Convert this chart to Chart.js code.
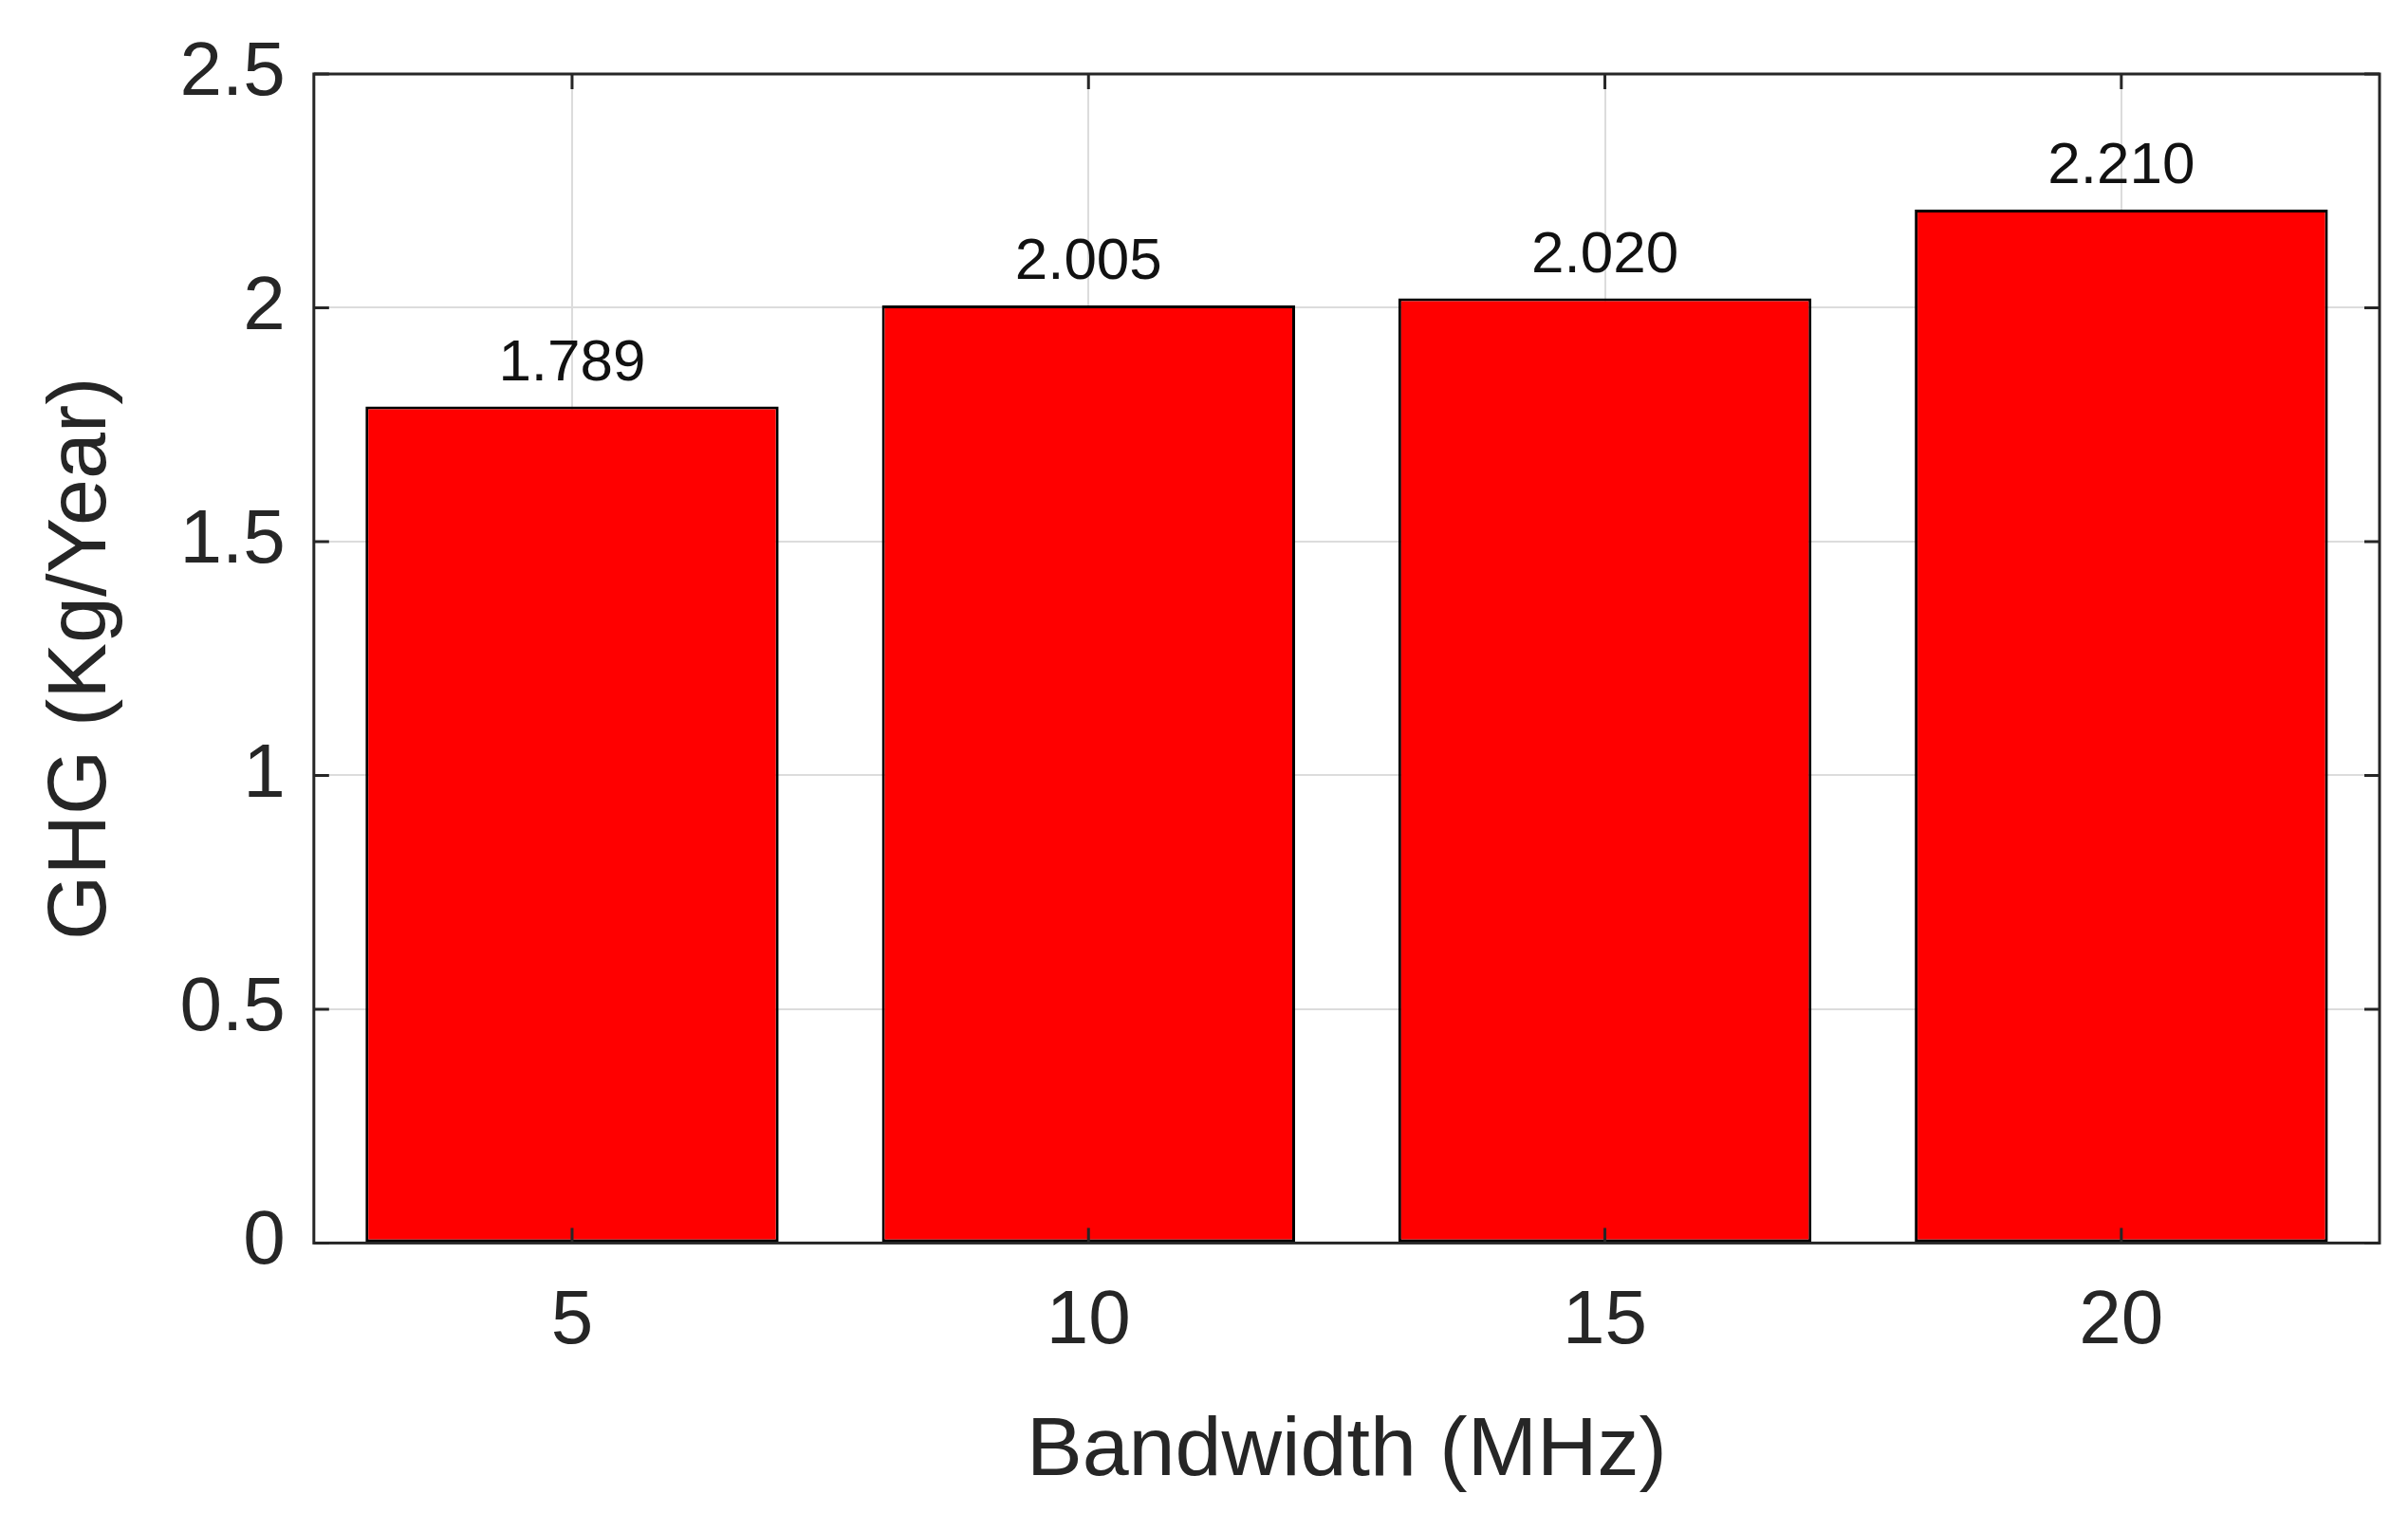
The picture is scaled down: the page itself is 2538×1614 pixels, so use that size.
<!DOCTYPE html>
<html><head><meta charset="utf-8">
<script src="https://cdn.jsdelivr.net/npm/chart.js@4"></script>
<style>html,body{margin:0;padding:0;background:#fff}#w{width:2538px;height:1614px}</style>
</head><body><div id="w"><canvas id="c"></canvas></div>
<script>
const categories = ["5","10","15","20"];
const ghgValues = [1.789, 2.005, 2.020, 2.210];
const valueLabels = ["1.789","2.005","2.020","2.210"];
const yTicks = [0,0.5,1,1.5,2,2.5];
const FONT = "Liberation Sans, Arial, sans-serif";

const extras = {
  id:'extras',
  afterDatasetsDraw(chart){
    const ctx=chart.ctx, a=chart.chartArea, x=chart.scales.x, y=chart.scales.y;
    ctx.save();
    ctx.strokeStyle='#262626'; ctx.lineWidth=3;
    ctx.strokeRect(a.left,a.top,a.right-a.left,a.bottom-a.top);
    const t=16;
    ctx.beginPath();
    yTicks.forEach(v=>{const p=y.getPixelForValue(v);ctx.moveTo(a.left,p);ctx.lineTo(a.left+t,p);ctx.moveTo(a.right,p);ctx.lineTo(a.right-t,p);});
    categories.forEach((c,i)=>{const p=x.getPixelForValue(i);ctx.moveTo(p,a.bottom);ctx.lineTo(p,a.bottom-t);ctx.moveTo(p,a.top);ctx.lineTo(p,a.top+t);});
    ctx.stroke();
    ctx.fillStyle='#111'; ctx.font='62px '+FONT; ctx.textAlign='center'; ctx.textBaseline='bottom';
    const meta=chart.getDatasetMeta(0);
    meta.data.forEach((b,i)=>ctx.fillText(valueLabels[i],b.x,b.y-14));
    ctx.restore();
  }
};

new Chart(document.getElementById('c'),{
  type:'bar',
  data:{labels:categories,datasets:[{data:ghgValues,backgroundColor:'#ff0000',borderColor:'#000',borderWidth:3,borderSkipped:false,categoryPercentage:0.8,barPercentage:1}]},
  options:{
    responsive:true,maintainAspectRatio:false,animation:false,
    layout:{padding:{top:50,right:30,left:30,bottom:30}},
    plugins:{legend:{display:false},tooltip:{enabled:false}},
    scales:{
      x:{grid:{color:'#dcdcdc',lineWidth:2,drawTicks:false,offset:false},border:{display:false},
         ticks:{color:'#262626',font:{size:80,family:FONT},padding:36},
         title:{display:true,text:'Bandwidth (MHz)',color:'#262626',font:{size:88,family:FONT},padding:{top:0,bottom:0}}},
      y:{min:0,max:2.5,grid:{color:'#dcdcdc',lineWidth:2,drawTicks:false},border:{display:false},
         afterBuildTicks:s=>{s.ticks=yTicks.map(v=>({value:v}));},
         ticks:{color:'#262626',font:{size:80,family:FONT},padding:30,callback:v=>String(v)},
         title:{display:true,text:'GHG (Kg/Year)',color:'#262626',font:{size:88,family:FONT},padding:{bottom:20}}}
    }
  },
  plugins:[extras]
});
</script></body></html>
